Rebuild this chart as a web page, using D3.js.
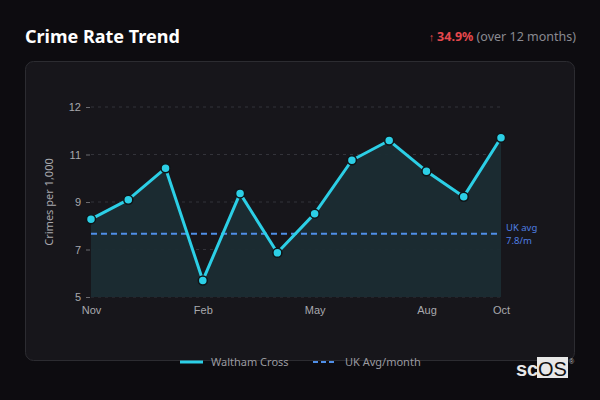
<!DOCTYPE html>
<html lang="en">
<head>
<meta charset="UTF-8">
<title>Crime Rate Trend</title>
<script src="https://d3js.org/d3.v7.min.js"></script>
<style>
  body { margin: 0; background: #0d0c10; }
  svg { display: block; font-family: "Noto Sans", "Open Sans", sans-serif; }
  .grid line { stroke: #33333a; stroke-dasharray: 3,4; stroke-width: 1; }
  .yaxis text, .xaxis text { fill: #a8a8ad; font-size: 11px; }
  .yaxis line { stroke: #6a6a70; }
</style>
</head>
<body>
<svg id="chart" width="600" height="400"></svg>
<script>
// data
const months = ["Nov", "Dec", "Jan", "Feb", "Mar", "Apr", "May", "Jun", "Jul", "Aug", "Sep", "Oct"];
const rates = [8.28, 8.99, 10.14, 6.04, 9.22, 7.05, 8.48, 10.43, 11.15, 10.03, 9.10, 11.25];
const ukAvg = 7.75;
const shownMonths = ["Nov", "Feb", "May", "Aug", "Oct"];
const legendLabels = ["Waltham Cross", "UK Avg/month"];

const svg = d3.select("#chart");
const cyan = "#2ccfe6";
const blue = "#4f8fe8";

// card
svg.append("rect")
  .attr("x", 25.5).attr("y", 61.5)
  .attr("width", 549).attr("height", 299)
  .attr("rx", 8)
  .attr("fill", "#17161b")
  .attr("stroke", "#2c2c31");

// title + change
svg.append("text")
  .attr("x", 25).attr("y", 43)
  .attr("fill", "#ffffff")
  .attr("font-size", 18).attr("font-weight", 700)
  .text("Crime Rate Trend");

const change = svg.append("text")
  .attr("x", 576).attr("y", 41)
  .attr("text-anchor", "end")
  .attr("font-size", 12.5);
change.append("tspan").attr("fill", "#e5484d").attr("font-size", 11).text("\u2191 ");
change.append("tspan").attr("fill", "#e5484d").attr("font-weight", 700).text("34.9%");
change.append("tspan").attr("fill", "#8a8a90").text(" (over 12 months)");

// scales
const x = d3.scalePoint().domain(months).range([91, 501]);
const yMin = d3.min(rates) * 0.9, yMax = d3.max(rates) * 1.1;
const y = d3.scaleLinear().domain([yMin, yMax]).range([297, 107]);
const yTicks = d3.range(5).map(i => yMin + i * (yMax - yMin) / 4);

// grid
svg.append("g").attr("class", "grid")
  .selectAll("line").data(yTicks).join("line")
  .attr("x1", 91).attr("x2", 501)
  .attr("y1", d => y(d)).attr("y2", d => y(d));

// y axis
const yAxis = svg.append("g").attr("class", "yaxis")
  .attr("transform", "translate(90,0)")
  .call(d3.axisLeft(y).tickValues(yTicks).tickFormat(d3.format(".0f")).tickSize(4).tickPadding(5));
yAxis.select(".domain").remove();

svg.append("text")
  .attr("transform", "translate(53,202) rotate(-90)")
  .attr("text-anchor", "middle")
  .attr("fill", "#a8a8ad").attr("font-size", 11)
  .text("Crimes per 1,000");

// x axis
const xAxis = svg.append("g").attr("class", "xaxis")
  .attr("transform", "translate(0,297)")
  .call(d3.axisBottom(x).tickValues(shownMonths).tickSize(0).tickPadding(9));
xAxis.select(".domain").remove();

// area
svg.append("path").datum(rates)
  .attr("fill", "#1b2c33").attr("fill-opacity", 0.95)
  .attr("d", d3.area().x((d, i) => x(months[i])).y0(y(yMin)).y1(d => y(d)));

// uk avg
svg.append("line")
  .attr("x1", 91).attr("x2", 497)
  .attr("y1", y(ukAvg)).attr("y2", y(ukAvg))
  .attr("stroke", blue).attr("stroke-width", 2)
  .attr("stroke-dasharray", "6,4");

const note = svg.append("text").attr("fill", "#4f7fe3").attr("font-size", 9.5);
note.append("tspan").attr("x", 506).attr("y", y(ukAvg) - 3).text("UK avg");
note.append("tspan").attr("x", 506).attr("y", y(ukAvg) + 10).text("7.8/m");

// line
svg.append("path").datum(rates)
  .attr("fill", "none").attr("stroke", cyan).attr("stroke-width", 3)
  .attr("stroke-linejoin", "round")
  .attr("d", d3.line().x((d, i) => x(months[i])).y(d => y(d)));

svg.append("g").selectAll("circle").data(rates).join("circle")
  .attr("cx", (d, i) => x(months[i])).attr("cy", d => y(d))
  .attr("r", 4.5)
  .attr("fill", cyan).attr("stroke", "#0f1417").attr("stroke-width", 1.5);

// legend
const lg = svg.append("g").attr("font-size", 11).attr("fill", "#9a9aa0");
lg.append("line").attr("x1", 180).attr("x2", 203).attr("y1", 362).attr("y2", 362)
  .attr("stroke", cyan).attr("stroke-width", 3);
lg.append("text").attr("x", 211).attr("y", 366).text(legendLabels[0]);
lg.append("line").attr("x1", 313).attr("x2", 337).attr("y1", 362).attr("y2", 362)
  .attr("stroke", blue).attr("stroke-width", 2).attr("stroke-dasharray", "5,3");
lg.append("text").attr("x", 345).attr("y", 366).text(legendLabels[1]);

// watermark
svg.append("rect").attr("x", 537).attr("y", 357).attr("width", 31).attr("height", 21).attr("fill", "#e8e8e8");
svg.append("text").attr("x", 516).attr("y", 376)
  .attr("font-family", "Liberation Sans, Arial, sans-serif").attr("font-size", 20).attr("font-weight", 700)
  .attr("fill", "#e8e8e8").text("sc");
svg.append("text").attr("x", 538).attr("y", 376)
  .attr("font-family", "Liberation Sans, Arial, sans-serif").attr("font-size", 20)
  .attr("fill", "#111").text("OS");
svg.append("text").attr("x", 569).attr("y", 364)
  .attr("font-family", "Liberation Sans, Arial, sans-serif").attr("font-size", 7)
  .attr("fill", "#bbb").text("\u00ae");
</script>
</body>
</html>
